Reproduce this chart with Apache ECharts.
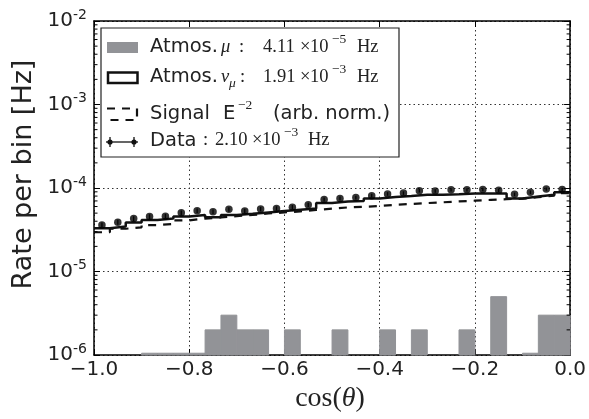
<!DOCTYPE html>
<html><head><meta charset="utf-8">
<script src="https://cdn.jsdelivr.net/npm/echarts@6.0.0/dist/echarts.min.js"></script>
<style>html,body{margin:0;padding:0;background:#fff}#c{width:589px;height:419px}</style>
</head><body><div id="c"></div>
<script>
// ---------------- data ----------------
const binCount = 30;
const xRange = [-1.0, 0.0];
const yRange = [1e-6, 1e-2];
const xTickLabels = ['−1.0', '−0.8', '−0.6', '−0.4', '−0.2', '0.0'];
const yTickExponents = ['-6', '-5', '-4', '-3', '-2'];

// Atmospheric muons (grey filled histogram), null = empty bin
const atmosMu = [null, null, null, 1.05e-6, 1.05e-6, 1.05e-6, 1.05e-6, 2e-6, 3e-6, 2e-6,
                 2e-6, null, 2e-6, null, null, 2e-6, null, null, 2e-6, null,
                 2e-6, null, null, 2e-6, null, 5e-6, null, 1.05e-6, 3e-6, 3e-6];
// Atmospheric neutrinos (solid step histogram)
const atmosNuMu = [3.3e-5, 3.45e-5, 3.85e-5, 4.15e-5, 4.3e-5, 4.55e-5, 4.75e-5, 4.45e-5, 4.75e-5, 4.9e-5,
                   5.1e-5, 5.3e-5, 5.5e-5, 5.7e-5, 6.6e-5, 6.9e-5, 7.0e-5, 7.5e-5, 7.8e-5, 8.0e-5,
                   8.3e-5, 8.3e-5, 8.4e-5, 8.6e-5, 8.6e-5, 8.6e-5, 7.5e-5, 7.9e-5, 8.3e-5, 8.9e-5];
// Signal E^-2 (dashed step histogram)
const signalE2 = [2.95e-5, 3.25e-5, 3.38e-5, 3.6e-5, 3.7e-5, 4.1e-5, 4.3e-5, 4.45e-5, 4.6e-5, 4.75e-5,
                  4.95e-5, 5.1e-5, 5.25e-5, 5.45e-5, 5.65e-5, 5.85e-5, 5.95e-5, 6.1e-5, 6.3e-5, 6.45e-5,
                  6.6e-5, 6.75e-5, 6.9e-5, 7.05e-5, 7.2e-5, 7.35e-5, 7.45e-5, 7.75e-5, 8.1e-5, 8.7e-5];
// Data points
const dataRate = [3.6e-5, 3.9e-5, 4.3e-5, 4.55e-5, 4.6e-5, 5.05e-5, 5.35e-5, 5.2e-5, 5.55e-5, 5.3e-5,
                  5.6e-5, 5.7e-5, 5.9e-5, 6.3e-5, 7.3e-5, 7.5e-5, 7.7e-5, 8.1e-5, 8.5e-5, 8.7e-5,
                  9.3e-5, 9.2e-5, 9.5e-5, 9.5e-5, 9.6e-5, 9.4e-5, 8.4e-5, 8.9e-5, 9.7e-5, 9.6e-5];
const dataErr = [2.6e-6, 2.7e-6, 2.9e-6, 3.0e-6, 3.0e-6, 3.2e-6, 3.3e-6, 3.2e-6, 3.4e-6, 3.3e-6,
                 3.4e-6, 3.4e-6, 3.5e-6, 3.6e-6, 3.9e-6, 4.0e-6, 4.0e-6, 4.1e-6, 4.2e-6, 4.3e-6,
                 4.4e-6, 4.4e-6, 4.5e-6, 4.5e-6, 4.5e-6, 4.5e-6, 4.2e-6, 4.3e-6, 4.5e-6, 4.5e-6];
const minorMantissas = [2, 3, 4, 5, 6, 7, 8, 9];

// ---------------- derived ----------------
const binEdges = Array.from({length: binCount + 1}, (_, i) => xRange[0] + i * (xRange[1] - xRange[0]) / binCount);
const binCenters = binEdges.slice(0, binCount).map((e, i) => (e + binEdges[i + 1]) / 2);
const stepData = arr => binEdges.map((e, i) => [e, arr[Math.min(i, binCount - 1)]]);
const minorVals = [];
for (let n = -6; n < -2; n++) minorMantissas.forEach(m => minorVals.push([xRange[0], m * Math.pow(10, n)]));

const TXT = '#222';
const SANS = 'DejaVu Sans';
const SERIF = 'Liberation Serif';
const GREY = '#929397';
const MS = 18.5;   // math font size in legend
const SUP = 13.5;
const grid = {left: 94, right: 18, top: 21, bottom: 64, show: false};
const dotted = {show: true, lineStyle: {color: '#333', type: [1.5, 3], width: 1}};
const frameLine = {show: true, onZero: false, lineStyle: {color: '#000', width: 1.5}};

const chart = echarts.init(document.getElementById('c'), null, {renderer: 'canvas'});

// legend graphic helpers
function t(text, x, y, font, size, extra) {
  return Object.assign({type: 'text', x: x, y: y, z: 101,
    style: Object.assign({text: text, fill: TXT, fontFamily: font, fontSize: size, align: 'left', verticalAlign: 'middle'}, extra || {})});
}
const r1 = 47, r2 = 77, r3 = 113.5, r4 = 140.5;
const legendChildren = [
  {type: 'rect', z: 100, shape: {x: 101, y: 28, width: 298, height: 129}, style: {fill: '#fff', stroke: '#222', lineWidth: 1.2}},
  // symbols
  {type: 'rect', z: 101, shape: {x: 107, y: 42, width: 31, height: 11}, style: {fill: GREY}},
  {type: 'rect', z: 101, shape: {x: 108, y: 72.5, width: 29.5, height: 10.5}, style: {fill: 'none', stroke: '#111', lineWidth: 2.5}},
  {type: 'polyline', z: 101, shape: {points: [[107, 108.5], [137, 108.5], [137, 120], [107, 120]]}, style: {fill: 'none', stroke: '#111', lineWidth: 2.2, lineDash: [8, 7]}},
  {type: 'line', z: 101, shape: {x1: 106, y1: 142, x2: 138, y2: 142}, style: {stroke: '#111', lineWidth: 1.3}},
  {type: 'line', z: 101, shape: {x1: 110, y1: 137, x2: 110, y2: 147}, style: {stroke: '#111', lineWidth: 1.3}},
  {type: 'line', z: 101, shape: {x1: 134, y1: 137, x2: 134, y2: 147}, style: {stroke: '#111', lineWidth: 1.3}},
  {type: 'circle', z: 101, shape: {cx: 110, cy: 142, r: 2.6}, style: {fill: '#111'}},
  {type: 'circle', z: 101, shape: {cx: 134, cy: 142, r: 2.6}, style: {fill: '#111'}},
  // row 1
  t('Atmos.', 150, r1, SANS, 19.5),
  t('μ', 221, r1, SERIF, MS, {fontStyle: 'italic'}),
  t(':', 239, r1, SERIF, MS),
  t('4.11', 263, r1, SERIF, MS),
  t('×', 300, r1, SERIF, MS),
  t('10', 310, r1, SERIF, MS),
  t('−5', 332, r1 - 8, SERIF, SUP),
  t('Hz', 357, r1, SERIF, MS),
  // row 2
  t('Atmos.', 150, r2, SANS, 19.5),
  t('ν', 221, r2, SERIF, MS, {fontStyle: 'italic'}),
  t('μ', 229, r2 + 6, SERIF, SUP, {fontStyle: 'italic'}),
  t(':', 240, r2, SERIF, MS),
  t('1.91', 263, r2, SERIF, MS),
  t('×', 300, r2, SERIF, MS),
  t('10', 310, r2, SERIF, MS),
  t('−3', 332, r2 - 8, SERIF, SUP),
  t('Hz', 357, r2, SERIF, MS),
  // row 3
  t('Signal', 150, r3, SANS, 19.5),
  t('E', 223, r3, SANS, 19.5),
  t('−2', 238, r3 - 8, SERIF, SUP),
  t('(arb. norm.)', 273, r3, SANS, 19.5),
  // row 4
  t('Data', 150, r4, SANS, 19.5),
  t(':', 203, r4, SERIF, MS),
  t('2.10', 215, r4, SERIF, MS),
  t('×', 252, r4, SERIF, MS),
  t('10', 262, r4, SERIF, MS),
  t('−3', 284, r4 - 8, SERIF, SUP),
  t('Hz', 308, r4, SERIF, MS)
];

const option = {
  animation: false,
  backgroundColor: '#fff',
  grid: grid,
  xAxis: [
    {type: 'value', min: xRange[0], max: xRange[1], interval: 0.2, position: 'bottom',
     axisLine: frameLine,
     axisTick: {show: true, inside: true, length: 6, lineStyle: {color: '#000', width: 1}},
     axisLabel: {margin: 5, color: TXT, fontFamily: SANS, fontSize: 20,
       formatter: v => xTickLabels[Math.round((v - xRange[0]) / 0.2)]},
     splitLine: dotted},
    {type: 'value', min: xRange[0], max: xRange[1], interval: 0.2, position: 'top',
     axisLine: frameLine,
     axisTick: {show: true, inside: true, length: 6, lineStyle: {color: '#000', width: 1}},
     axisLabel: {show: false}, splitLine: {show: false}}
  ],
  yAxis: [
    {type: 'log', logBase: 10, min: yRange[0], max: yRange[1], position: 'left',
     axisLine: frameLine,
     axisTick: {show: true, inside: true, length: 6, lineStyle: {color: '#000', width: 1}},
     axisLabel: {margin: 7, color: TXT,
       formatter: v => '{b|10}{s|' + yTickExponents[Math.round(Math.log10(v)) + 6] + '}',
       rich: {b: {fontFamily: SANS, fontSize: 20, lineHeight: 26, color: TXT},
              s: {fontFamily: SANS, fontSize: 14, lineHeight: 14, verticalAlign: 'top', color: TXT}}},
     splitLine: dotted},
    {type: 'log', logBase: 10, min: yRange[0], max: yRange[1], position: 'right',
     axisLine: frameLine,
     axisTick: {show: true, inside: true, length: 6, lineStyle: {color: '#000', width: 1}},
     axisLabel: {show: false}, splitLine: {show: false}}
  ],
  series: [
    {name: 'Atmos. mu', type: 'custom', xAxisIndex: 0, yAxisIndex: 0, z: 2,
     encode: {x: [0, 1], y: 2},
     data: atmosMu.map((v, i) => v ? [binEdges[i], binEdges[i + 1], v] : null).filter(Boolean),
     renderItem: (params, api) => {
       const p1 = api.coord([api.value(0), api.value(2)]);
       const p2 = api.coord([api.value(1), yRange[0]]);
       return {type: 'rect', shape: {x: p1[0], y: p1[1], width: p2[0] - p1[0], height: p2[1] - p1[1]},
               style: {fill: GREY, stroke: GREY, lineWidth: 1}};
     }},
    {name: 'Signal', type: 'line', step: 'end', xAxisIndex: 0, yAxisIndex: 0, z: 3,
     data: stepData(signalE2), symbol: 'none',
     lineStyle: {color: '#111', width: 2.2, type: [8, 7]}},
    {name: 'Atmos. nu', type: 'line', step: 'end', xAxisIndex: 0, yAxisIndex: 0, z: 4,
     data: stepData(atmosNuMu), symbol: 'none',
     lineStyle: {color: '#111', width: 2.5}},
    {name: 'Data err', type: 'custom', xAxisIndex: 0, yAxisIndex: 0, z: 5,
     encode: {x: 0, y: [1, 2]},
     data: dataRate.map((v, i) => [binCenters[i], v - dataErr[i], v + dataErr[i]]),
     renderItem: (params, api) => {
       const a = api.coord([api.value(0), api.value(1)]);
       const b = api.coord([api.value(0), api.value(2)]);
       return {type: 'line', shape: {x1: a[0], y1: a[1], x2: b[0], y2: b[1]}, style: {stroke: '#111', lineWidth: 1.3}};
     }},
    {name: 'Data', type: 'scatter', xAxisIndex: 0, yAxisIndex: 0, z: 6,
     data: dataRate.map((v, i) => [binCenters[i], v]), symbol: 'circle', symbolSize: 7.5,
     itemStyle: {color: '#000'}},
    {name: 'minor ticks', type: 'custom', xAxisIndex: 0, yAxisIndex: 0, z: 7, silent: true,
     data: minorVals,
     renderItem: (params, api) => {
       const l = api.coord([xRange[0], api.value(1)]);
       const r = api.coord([xRange[1], api.value(1)]);
       return {type: 'group', children: [
         {type: 'line', shape: {x1: l[0], y1: l[1], x2: l[0] + 3.5, y2: l[1]}, style: {stroke: '#000', lineWidth: 1}},
         {type: 'line', shape: {x1: r[0] - 3.5, y1: r[1], x2: r[0], y2: r[1]}, style: {stroke: '#000', lineWidth: 1}}
       ]};
     }}
  ],
  graphic: [
    {type: 'group', children: legendChildren},
    {type: 'text', x: 24, y: 174.5, rotation: Math.PI / 2, z: 50,
     style: {text: 'Rate per bin [Hz]', fill: TXT, fontFamily: SANS, fontSize: 27, align: 'center', verticalAlign: 'middle'}},
    {type: 'text', x: 330, y: 399, z: 50,
     style: {text: '{r|cos(}{i|θ}{r|)}', align: 'center', verticalAlign: 'middle',
       rich: {r: {fontFamily: SERIF, fontSize: 28, fill: TXT, color: TXT},
              i: {fontFamily: SERIF, fontSize: 28, fontStyle: 'italic', fill: TXT, color: TXT}}}}
  ]
};
chart.setOption(option);
</script></body></html>
